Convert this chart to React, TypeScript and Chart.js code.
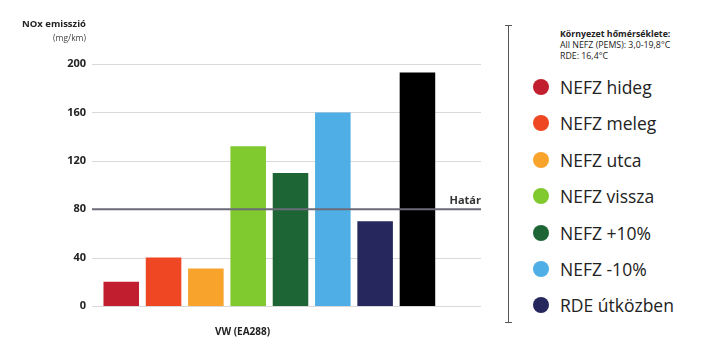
import React, { useEffect, useRef } from "react";
import { Chart, registerables } from "chart.js";

Chart.register(...registerables);

const categories = ["VW (EA288)"];
const seriesLabels = [
  "NEFZ hideg",
  "NEFZ meleg",
  "NEFZ utca",
  "NEFZ vissza",
  "NEFZ +10%",
  "NEFZ -10%",
  "RDE útközben",
  "",
];
const seriesValues = [20, 40, 31, 132, 110, 160, 70, 193];
const seriesColors = [
  "#c11f2f",
  "#ef4623",
  "#f8a42c",
  "#80c92f",
  "#1d6535",
  "#4faee5",
  "#26275c",
  "#000000",
];
const yTicks = [0, 40, 80, 120, 160, 200];
const limitValue = 80;
const limitLabel = "Határ";
const axisTitle = "NOx emisszió";
const axisUnit = "(mg/km)";
const noteLines = ["Környezet hőmérséklete:", "All NEFZ (PEMS): 3,0-19,8°C", "RDE: 16,4°C"];

const FONT = "'Open Sans', 'Noto Sans', sans-serif";
const GRID_SHIFT = 4;

const gridPlugin = {
  id: "customGrid",
  beforeDatasetsDraw(chart: any) {
    const { ctx, chartArea, scales } = chart;
    ctx.save();
    ctx.strokeStyle = "#d9d9d9";
    ctx.lineWidth = 1;
    yTicks.forEach((v) => {
      if (v === limitValue) return;
      const y = Math.round(scales.y.getPixelForValue(v)) + 0.5;
      ctx.beginPath();
      ctx.moveTo(chartArea.left - GRID_SHIFT, y);
      ctx.lineTo(chartArea.right - GRID_SHIFT, y);
      ctx.stroke();
    });
    ctx.restore();
  },
  afterDatasetsDraw(chart: any) {
    const { ctx, chartArea, scales } = chart;
    const y = scales.y.getPixelForValue(limitValue);
    ctx.save();
    ctx.strokeStyle = "#6b6b78";
    ctx.lineWidth = 2;
    ctx.beginPath();
    ctx.moveTo(chartArea.left - GRID_SHIFT, y);
    ctx.lineTo(chartArea.right - GRID_SHIFT, y);
    ctx.stroke();
    ctx.fillStyle = "#333";
    ctx.font = "bold 11px " + FONT;
    ctx.textAlign = "right";
    ctx.textBaseline = "bottom";
    ctx.fillText(limitLabel, chartArea.right - GRID_SHIFT, y - 3);
    ctx.restore();
  },
};

export default function App() {
  const ref = useRef<HTMLCanvasElement>(null);
  useEffect(() => {
    if (!ref.current) return;
    const datasets: any[] = seriesValues.map((v, i) => ({
      label: seriesLabels[i],
      data: [v],
      backgroundColor: seriesColors[i],
      borderWidth: 0,
    }));
    datasets.push({ label: "", data: [null], backgroundColor: "transparent", borderWidth: 0 });
    const chart = new Chart(ref.current, {
      type: "bar",
      data: { labels: categories, datasets },
      plugins: [gridPlugin],
      options: {
        animation: false,
        responsive: false,
        maintainAspectRatio: false,
        layout: { padding: { top: 64, right: 15, left: 0, bottom: 0 } },
        plugins: { legend: { display: false }, tooltip: { enabled: false } },
        datasets: { bar: { categoryPercentage: 0.979, barPercentage: 0.84 } },
        scales: {
          x: {
            grid: { display: false },
            border: { display: false },
            ticks: {
              color: "#222",
              font: { family: FONT, size: 10, weight: "bold" },
              padding: 12,
              labelOffset: -48,
            },
            afterFit(scale: any) {
              scale.height = 42;
            },
          },
          y: {
            min: 0,
            max: 200,
            afterBuildTicks(scale: any) {
              scale.ticks = yTicks.map((v) => ({ value: v }));
            },
            grid: { display: false, drawTicks: false },
            border: { display: false },
            ticks: {
              color: "#222",
              font: { family: FONT, size: 11, weight: "bold" },
              padding: 10,
            },
            afterFit(scale: any) {
              scale.width = 96;
            },
          },
        },
      },
    });
    return () => chart.destroy();
  }, []);

  return (
    <div style={{ position: "fixed", left: 0, top: 0, width: 707, height: 348, background: "#fff", fontFamily: FONT, color: "#222" }}>
      <canvas ref={ref} width={500} height={348} style={{ position: "absolute", left: 0, top: 0, width: 500, height: 348 }} />
      <div style={{ position: "absolute", right: 707 - 86, top: 17, textAlign: "right", whiteSpace: "nowrap" }}>
        <div style={{ fontSize: 9.5, fontWeight: 700, lineHeight: "14px" }}>{axisTitle}</div>
        <div style={{ fontSize: 8.5, lineHeight: "13px", color: "#444" }}>{axisUnit}</div>
      </div>
      <div style={{ position: "absolute", left: 508, top: 26, width: 1, height: 297, background: "#555" }} />
      <div style={{ position: "absolute", left: 505, top: 25, width: 7, height: 1, background: "#555" }} />
      <div style={{ position: "absolute", left: 505, top: 322, width: 7, height: 1, background: "#555" }} />
      <div style={{ position: "absolute", left: 560, top: 29 }}>
        {noteLines.map((t, i) => (
          <div key={i} style={{ fontSize: 8.8, lineHeight: "11px", fontWeight: i === 0 ? 700 : 400, whiteSpace: "nowrap" }}>{t}</div>
        ))}
      </div>
      {seriesLabels.map((l, i) =>
        l ? (
          <div key={i} style={{ position: "absolute", left: 533, top: 88 + i * 36.4 - 13, height: 24, display: "flex", alignItems: "center", whiteSpace: "nowrap" }}>
            <span style={{ display: "inline-block", width: 16, height: 16, borderRadius: 8, background: seriesColors[i], marginRight: 11 }} />
            <span style={{ fontSize: 17.5, color: "#222" }}>{l}</span>
          </div>
        ) : null
      )}
    </div>
  );
}
